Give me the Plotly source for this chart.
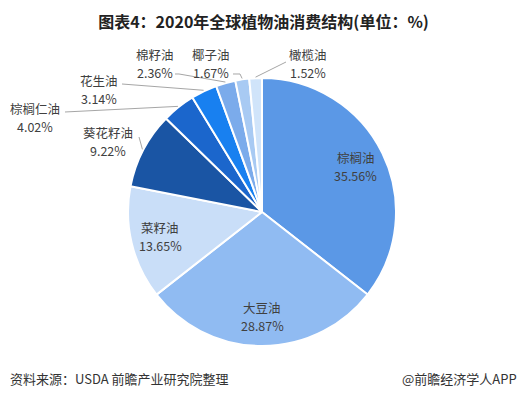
import math
import plotly.graph_objects as go

# ---- data ----
names = ["棕榈油", "大豆油", "菜籽油", "葵花籽油", "棕榈仁油", "花生油", "棉籽油", "椰子油", "橄榄油"]
values = [35.56, 28.87, 13.65, 9.22, 4.02, 3.14, 2.36, 1.67, 1.52]
colors = ["#5B98E6", "#90BBF2", "#C9DEF8", "#1A55A4", "#1B66CC", "#1880F0", "#7BABEB", "#A8CAF3", "#D0E4FA"]
inside = [True, True, True, False, False, False, False, False, False]

title = "<b>图表4：2020年全球植物油消费结构(单位：%)</b>"
source = "资料来源：USDA 前瞻产业研究院整理"
brand = "@前瞻经济学人APP"

# ---- layout (pixels) ----
W, H = 527, 399
CX, CY, R = 262, 212, 134
LINE_GAP = 18
# outside label: name-line centre (pixels) and leader-line start points, by slice name
outside_layout = {
    "葵花籽油": ((108, 132.5), [(139, 137)]),
    "棕榈仁油": ((35, 108.5), [(65, 112)]),
    "花生油": ((99, 80.5), [(122, 84)]),
    "棉籽油": ((155, 54.5), [(175, 74), (179, 74)]),
    "椰子油": ((211, 54.5), [(233, 74), (240, 74)]),
    "橄榄油": ((308, 54.5), [(286, 62)]),
}

def px(x):
    return x / W

def py(y):
    return 1 - y / H

fig = go.Figure(go.Pie(
    labels=names, values=values, sort=False, direction="clockwise", rotation=0,
    marker=dict(colors=colors, line=dict(color="white", width=2)),
    textinfo="none", hoverinfo="skip", showlegend=False,
    domain=dict(x=[px(CX - R), px(CX + R)], y=[py(CY + R), py(CY - R)]),
))

font_fam = "Noto Sans CJK SC, Noto Sans, sans-serif"
lab_font = dict(size=12.5, color="#404040", family=font_fam)
annotations = []
shapes = []


def add_label(x, y, name, pct):
    annotations.append(dict(x=px(x), y=py(y), xref="paper", yref="paper", text=name,
                            showarrow=False, font=lab_font, xanchor="center", yanchor="middle"))
    annotations.append(dict(x=px(x), y=py(y + LINE_GAP), xref="paper", yref="paper", text=pct,
                            showarrow=False, font=lab_font, xanchor="center", yanchor="middle"))


total = sum(values)
cum = 0.0
for name, v, ins in zip(names, values, inside):
    mid = cum + v / 2
    theta = math.radians(90 - 360 * mid / total)
    cum += v
    pct = f"{v:.2f}%"
    if ins:
        f = 0.78
        x = CX + f * R * math.cos(theta)
        y = CY - f * R * math.sin(theta) - LINE_GAP / 2
        add_label(x, y, name, pct)
    else:
        (tx, ty), pts = outside_layout[name]
        add_label(tx, ty, name, pct)
        ex = CX + (R + 1) * math.cos(theta)
        ey = CY - (R + 1) * math.sin(theta)
        allpts = pts + [(ex, ey)]
        path = "M " + " L ".join(f"{px(a):.5f},{py(b):.5f}" for a, b in allpts)
        shapes.append(dict(type="path", path=path, xref="paper", yref="paper",
                           line=dict(color="#A6A6A6", width=1)))

annotations.append(dict(x=px(8), y=py(378), xref="paper", yref="paper", text=source,
                        showarrow=False, xanchor="left", yanchor="middle",
                        font=dict(size=13, color="#333333", family=font_fam)))
annotations.append(dict(x=px(519), y=py(378), xref="paper", yref="paper", text=brand,
                        showarrow=False, xanchor="right", yanchor="middle",
                        font=dict(size=13, color="#333333", family=font_fam)))

fig.update_layout(
    width=W, height=H,
    margin=dict(l=0, r=0, t=0, b=0),
    paper_bgcolor="white", plot_bgcolor="white",
    title=dict(text=title, x=0.5, xanchor="center", y=py(22), yanchor="middle",
               font=dict(size=16, color="#222222", family=font_fam)),
    annotations=annotations,
    shapes=shapes,
)

fig.write_html("out.html", config={"displayModeBar": False},
               post_script="document.body.style.margin='0';")
